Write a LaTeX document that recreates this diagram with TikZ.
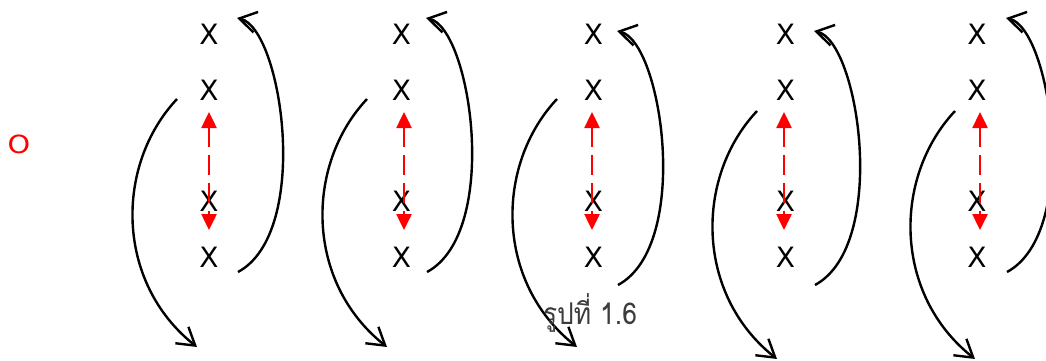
\documentclass[tikz,border=0pt]{standalone}
\usepackage{fontspec}
\setmainfont{DejaVu Sans}
\newfontfamily\thaifont[Script=Thai, FakeStretch=0.88]{Loma}
\newfontfamily\wideo[FakeStretch=1.15]{DejaVu Sans}
\usetikzlibrary{arrows.meta}
\definecolor{capgray}{RGB}{60,60,60}
\tikzset{
  xmark/.style={font=\fontsize{28}{30}\selectfont, inner sep=0pt},
  bend arrow/.style={line width=2.4pt, -{Straight Barb[length=17pt,width=21pt,line width=2.4pt]}},
  red arrow/.style={red, line width=2.5pt, dash pattern=on 20pt off 8pt,
    {Triangle[length=16pt,width=15pt]}-{Triangle[length=16pt,width=15pt]}},
}
\begin{document}
\begin{tikzpicture}[x=1pt,y=-1pt]
\useasboundingbox (0,0) rectangle (1046,360);
\clip (0,0) rectangle (1046,360);
\node[red, font=\wideo\fontsize{25}{27}\selectfont, inner sep=0pt] (o) at (19,144) {O};
\foreach \i/\xx/\rx/\ax/\ay/\bx/\by in {
  1/209/209/0/0/0/0,
  2/401.5/404/189/0/190/0,
  3/593.5/592/380/13/380/0,
  4/785.5/784/577/13/580/12,
  5/977/980/769/0/778/12}{
  \node[xmark] (x\i a) at (\xx,34) {X};
  \node[xmark] (x\i b) at (\xx,90) {X};
  \node[xmark] (x\i c) at (\xx,201) {X};
  \node[xmark] (x\i d) at (\xx,257) {X};
  \coordinate (r\i t) at (\rx,112);
  \coordinate (r\i b) at (\rx,230);
  \draw[red arrow] (r\i t) -- (r\i b);
  \begin{scope}[shift={(\ax,\ay)}]
    \coordinate (ra\i) at (238,272);
    \coordinate (rb\i) at (237,18);
    \draw[bend arrow] (ra\i) .. controls (312,232) and (282,28) .. (rb\i);
  \end{scope}
  \begin{scope}[shift={(\bx,\by)}]
    \coordinate (la\i) at (177,99);
    \coordinate (lb\i) at (197,347);
    \draw[bend arrow] (la\i) .. controls (115,165) and (115,282) .. (lb\i);
  \end{scope}
}
\node[anchor=base, text=capgray, font=\thaifont\fontsize{30}{32}\selectfont, inner sep=0pt] (cap) at (590,324) {รูปที่ 1.6};
\end{tikzpicture}
\end{document}
